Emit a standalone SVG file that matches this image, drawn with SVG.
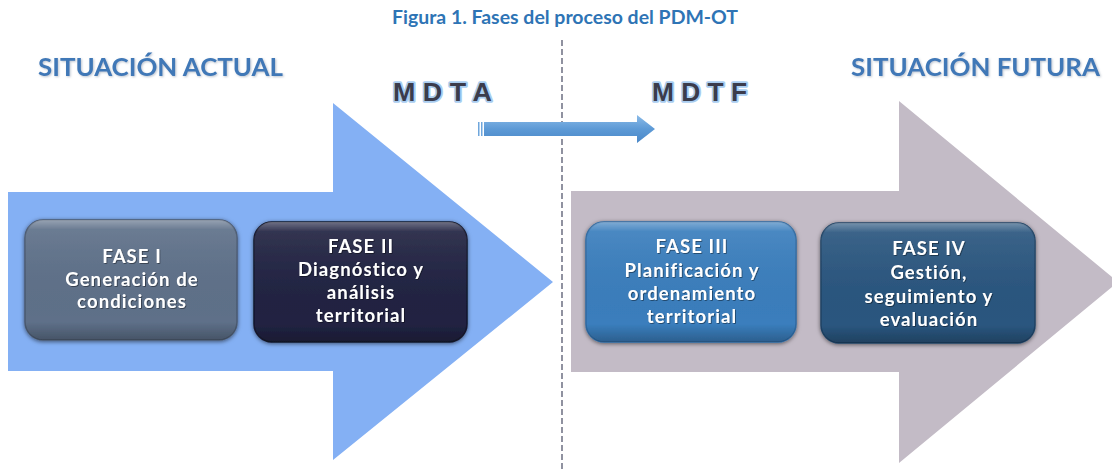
<svg xmlns="http://www.w3.org/2000/svg" width="1112" height="469" viewBox="0 0 1112 469">
<style>
  .title{font-family:Lato,"Open Sans","Liberation Sans",sans-serif;font-weight:bold;font-size:18px;fill:#2E74B5}
  .sit{font-family:Lato,"Open Sans","Liberation Sans",sans-serif;font-weight:bold;font-size:24px;fill:#3F78B7;filter:url(#tshadow)}
  .md{font-family:"Liberation Sans",Arial,sans-serif;font-weight:bold;font-size:25px;fill:#3B3C4C;stroke:#A9CDF0;stroke-width:3.5;paint-order:stroke;stroke-linejoin:round}
  .bt{font-family:Lato,"Open Sans","Liberation Sans",sans-serif;font-weight:bold;font-size:18.5px;letter-spacing:1.1px;fill:#FFFFFF;text-anchor:middle;filter:url(#wshadow)}
  .box{filter:url(#bshadow)}
</style>
<defs>
  <filter id="bshadow" x="-10%" y="-15%" width="120%" height="135%">
    <feDropShadow dx="0" dy="1" stdDeviation="2" flood-color="#000" flood-opacity="0.55"/>
  </filter>
  <filter id="tshadow" x="-5%" y="-20%" width="110%" height="160%">
    <feDropShadow dx="1" dy="1" stdDeviation="0.8" flood-color="#7a8aa0" flood-opacity="0.5"/>
  </filter>
  <filter id="wshadow" x="-10%" y="-20%" width="120%" height="150%">
    <feDropShadow dx="0.8" dy="0.8" stdDeviation="0.6" flood-color="#000" flood-opacity="0.5"/>
  </filter>
  <linearGradient id="bevel" x1="0" y1="0" x2="0" y2="1">
    <stop offset="0" stop-color="#fff" stop-opacity="0.35"/>
    <stop offset="0.08" stop-color="#fff" stop-opacity="0.08"/>
    <stop offset="0.85" stop-color="#000" stop-opacity="0"/>
    <stop offset="1" stop-color="#000" stop-opacity="0.25"/>
  </linearGradient>
  <linearGradient id="smallArrow" x1="0" y1="0" x2="0" y2="1">
    <stop offset="0" stop-color="#8BBBE8"/>
    <stop offset="0.5" stop-color="#5D9AD6"/>
    <stop offset="1" stop-color="#4A88C8"/>
  </linearGradient>
</defs>

<rect width="1112" height="469" fill="#FFFFFF"/>

<text class="title" x="565" y="24" text-anchor="middle" textLength="346" lengthAdjust="spacingAndGlyphs">Figura 1. Fases del proceso del PDM-OT</text>

<!-- big arrows -->
<g id="arrow-actual">
  <polygon points="8,192 333,192 333,103 553,282 333,460 333,371 8,371" fill="#84B0F4"/>
</g>
<g id="arrow-futura">
  <polygon points="571,191 899,191 899,101 1118,282 899,463 899,372 571,372" fill="#C3BBC6"/>
</g>

<g id="label-actual"><text class="sit" x="38" y="76" textLength="245" lengthAdjust="spacingAndGlyphs">SITUACIÓN ACTUAL</text></g>
<g id="label-futura"><text class="sit" x="851" y="76" textLength="249" lengthAdjust="spacingAndGlyphs">SITUACIÓN FUTURA</text></g>

<g id="label-mdta"><text class="md" x="393" y="101" textLength="99" lengthAdjust="spacingAndGlyphs">M D T A</text></g>
<g id="label-mdtf"><text class="md" x="652" y="101" textLength="95" lengthAdjust="spacingAndGlyphs">M D T F</text></g>

<g id="connectors">
  <line x1="562" y1="40" x2="562" y2="469" stroke="#55586E" stroke-width="1.3" stroke-dasharray="6,3"/>
  <rect x="478" y="122" width="1.5" height="14" fill="#6FA6DC"/>
  <rect x="481" y="122" width="1.5" height="14" fill="#6FA6DC"/>
  <polygon points="484,122 637,122 637,115 655,129 637,143 637,136 484,136" fill="url(#smallArrow)"/>
</g>

<g id="fase1" class="box">
  <rect x="25" y="220" width="212" height="120" rx="18" fill="#5E7089" stroke="#4B5A70" stroke-width="1.5"/>
  <rect x="25" y="220" width="212" height="120" rx="18" fill="url(#bevel)"/>
  <text class="bt"><tspan x="132" y="263">FASE I</tspan><tspan x="132" y="286">Generación de</tspan><tspan x="132" y="308">condiciones</tspan></text>
</g>
<g id="fase2" class="box">
  <rect x="254" y="222" width="213" height="120" rx="18" fill="#212342" stroke="#15172c" stroke-width="1.5"/>
  <rect x="254" y="222" width="213" height="120" rx="18" fill="url(#bevel)"/>
  <text class="bt"><tspan x="361" y="253">FASE II</tspan><tspan x="361" y="276">Diagnóstico y</tspan><tspan x="361" y="299">análisis</tspan><tspan x="361" y="322">territorial</tspan></text>
</g>
<g id="fase3" class="box">
  <rect x="586" y="222" width="210" height="120" rx="18" fill="#3A7EBD" stroke="#2f6aa2" stroke-width="1.5"/>
  <rect x="586" y="222" width="210" height="120" rx="18" fill="url(#bevel)"/>
  <text class="bt"><tspan x="692" y="253">FASE III</tspan><tspan x="692" y="277">Planificación y</tspan><tspan x="692" y="300">ordenamiento</tspan><tspan x="692" y="323">territorial</tspan></text>
</g>
<g id="fase4" class="box">
  <rect x="821" y="223" width="214" height="120" rx="18" fill="#2A567F" stroke="#1f4366" stroke-width="1.5"/>
  <rect x="821" y="223" width="214" height="120" rx="18" fill="url(#bevel)"/>
  <text class="bt"><tspan x="929" y="255">FASE IV</tspan><tspan x="929" y="279">Gestión,</tspan><tspan x="929" y="303">seguimiento y</tspan><tspan x="929" y="326">evaluación</tspan></text>
</g>
</svg>
